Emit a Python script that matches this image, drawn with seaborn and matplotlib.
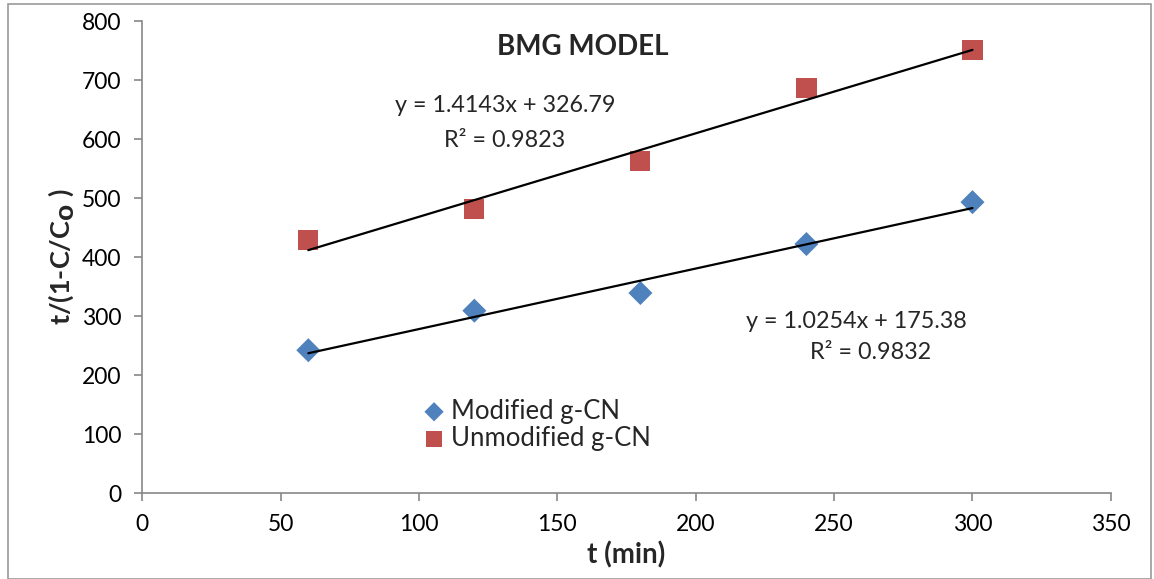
import numpy as np
import pandas as pd
import matplotlib
matplotlib.use("Agg")
import matplotlib.pyplot as plt
import seaborn as sns

# ---- data ----
time_min = [60, 120, 180, 240, 300]
modified_vals = [242, 309, 339, 422, 493]
unmodified_vals = [429, 481, 563, 687, 751]
series_names = ["Modified g-CN", "Unmodified g-CN"]
fit_slopes = [1.0254, 1.4143]
fit_intercepts = [175.38, 326.79]
fit_r2 = [0.9832, 0.9823]
x_ticks = [0, 50, 100, 150, 200, 250, 300, 350]
y_ticks = [0, 100, 200, 300, 400, 500, 600, 700, 800]

sns.set_theme(style="white")
plt.rcParams['font.family'] = ['Lato', 'DejaVu Sans']

df = pd.DataFrame({
    "t": time_min * 2,
    "val": modified_vals + unmodified_vals,
    "series": [series_names[0]] * 5 + [series_names[1]] * 5,
})

fig = plt.figure(figsize=(11.54, 5.79), dpi=100)
ax = fig.add_axes([0.1233, 0.1485, 0.8393, 0.8152])

colors = {series_names[0]: "#4F81BD", series_names[1]: "#C0504D"}
markers = {series_names[0]: "D", series_names[1]: "s"}
sizes = {series_names[0]: 150, series_names[1]: 210}

for name in series_names:
    sub = df[df.series == name]
    sns.scatterplot(data=sub, x="t", y="val", marker=markers[name], color=colors[name],
                    s=sizes[name], edgecolor="none", ax=ax, label=name, zorder=3)

# trend lines
for m, b in zip(fit_slopes, fit_intercepts):
    xs = np.array([min(time_min), max(time_min)])
    ax.plot(xs, m * xs + b, color="black", lw=1.6, zorder=4)

ax.set_xlim(0, 350)
ax.set_ylim(0, 800)
ax.set_xticks(x_ticks)
ax.set_yticks(y_ticks)
ax.tick_params(axis="both", labelsize=16.5, colors="#888888", labelcolor="black",
               direction="out", length=6, width=1.2, bottom=True, left=True)
ax.tick_params(axis="x", pad=9)
ax.tick_params(axis="y", pad=9)
for s in ["top", "right"]:
    ax.spines[s].set_visible(False)
for s in ["left", "bottom"]:
    ax.spines[s].set_color("#888888")
    ax.spines[s].set_linewidth(1.2)

ax.set_xlabel("t (min)", fontsize=20, fontweight="bold", labelpad=5)
ax.set_ylabel("t/(1-C/C$_\\mathbf{O}$ )", fontsize=19.5, fontweight="bold", labelpad=4)

ax.text(159, 756, "BMG MODEL", fontsize=20, fontweight="bold", ha="center", va="center")
ax.text(131, 656, f"y = {fit_slopes[1]}x + {fit_intercepts[1]}", fontsize=16.8, ha="center", va="center")
ax.text(131, 598, f"R² = {fit_r2[1]}", fontsize=16.8, ha="center", va="center")
ax.text(258, 290, f"y = {fit_slopes[0]}x + {fit_intercepts[0]}", fontsize=16.8, ha="center", va="center")
ax.text(263, 239, f"R² = {fit_r2[0]}", fontsize=16.8, ha="center", va="center")

leg = ax.legend(loc="upper left", bbox_to_anchor=(0.280, 0.222), frameon=False, fontsize=18.5,
                handlelength=0.8, handletextpad=0.25, borderaxespad=0, labelspacing=0.1,
                markerscale=0.8)

# chart border
fig.patches.append(plt.Rectangle((0.007, 0.0), 0.99, 0.993, transform=fig.transFigure,
                                 fill=False, edgecolor="#999999", lw=1.2))

fig.savefig("out.png", dpi=100)
